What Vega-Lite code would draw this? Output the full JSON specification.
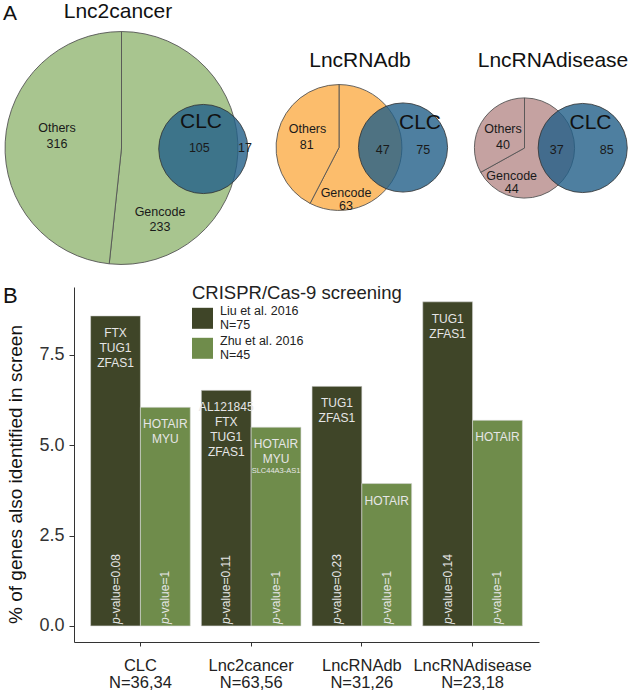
{
  "$schema": "https://vega.github.io/schema/vega-lite/v6.json",
  "padding": {"left": 2, "top": 0, "right": 0, "bottom": 0},
  "background": "white",
  "config": {
    "view": {"stroke": null},
    "font": "Liberation Sans",
    "style": {"guide-label": {"lineHeight": 14}}
  },
  "spacing": 12,
  "resolve": {
    "scale": {"color": "independent", "x": "independent", "y": "independent", "size": "independent", "radius": "independent", "theta": "independent"},
    "legend": {"color": "independent"}
  },
  "datasets": {
    "pies": [
      {"db": "Lnc2cancer", "part": "Gencode", "ord": 1, "n": 338, "total": 654, "cx": 121.5, "cy": 148},
      {"db": "Lnc2cancer", "part": "Others", "ord": 2, "n": 316, "total": 654, "cx": 121.5, "cy": 148},
      {"db": "LncRNAdb", "part": "Gencode", "ord": 1, "n": 110, "total": 191, "cx": 339, "cy": 147.5},
      {"db": "LncRNAdb", "part": "Others", "ord": 2, "n": 81, "total": 191, "cx": 339, "cy": 147.5},
      {"db": "LncRNAdisease", "part": "Gencode", "ord": 1, "n": 81, "total": 121, "cx": 524.5, "cy": 148},
      {"db": "LncRNAdisease", "part": "Others", "ord": 2, "n": 40, "total": 121, "cx": 524.5, "cy": 148}
    ],
    "clc": [
      {"db": "CLC", "total": 122, "cx": 203.3, "cy": 149},
      {"db": "CLC", "total": 122, "cx": 403, "cy": 147.5},
      {"db": "CLC", "total": 122, "cx": 582.7, "cy": 148}
    ],
    "labels": [
      {"kind": "big", "t": "A", "lx": 10, "ly": 20},
      {"kind": "big", "t": "Lnc2cancer", "lx": 118, "ly": 18.3},
      {"kind": "big", "t": "LncRNAdb", "lx": 360, "ly": 66.7},
      {"kind": "big", "t": "LncRNAdisease", "lx": 553, "ly": 66.7},
      {"kind": "big", "t": "CLC", "lx": 201, "ly": 128.3},
      {"kind": "big", "t": "CLC", "lx": 420, "ly": 129.3},
      {"kind": "big", "t": "CLC", "lx": 590.5, "ly": 129.3},
      {"kind": "num", "t": "Others", "lx": 57, "ly": 128.3},
      {"kind": "num", "t": "316", "lx": 57, "ly": 144.3},
      {"kind": "num", "t": "105", "lx": 199.3, "ly": 148.3},
      {"kind": "num", "t": "17", "lx": 245, "ly": 148.3},
      {"kind": "num", "t": "Gencode", "lx": 160, "ly": 211.7},
      {"kind": "num", "t": "233", "lx": 160, "ly": 227.3},
      {"kind": "num", "t": "Others", "lx": 307.5, "ly": 129.3},
      {"kind": "num", "t": "81", "lx": 306.7, "ly": 145},
      {"kind": "num", "t": "47", "lx": 382.7, "ly": 150},
      {"kind": "num", "t": "75", "lx": 423.3, "ly": 150},
      {"kind": "num", "t": "Gencode", "lx": 346, "ly": 192.7},
      {"kind": "num", "t": "63", "lx": 346, "ly": 206},
      {"kind": "num", "t": "Others", "lx": 503, "ly": 129.3},
      {"kind": "num", "t": "40", "lx": 503, "ly": 145},
      {"kind": "num", "t": "37", "lx": 556.7, "ly": 150},
      {"kind": "num", "t": "85", "lx": 606.7, "ly": 150},
      {"kind": "num", "t": "Gencode", "lx": 511.7, "ly": 176},
      {"kind": "num", "t": "44", "lx": 511.7, "ly": 189.3}
    ],
    "bars": [
      {"group": "CLC\nN=36,34", "study": "Liu et al. 2016\nN=75", "pct": 8.58, "genes": "FTX\nTUG1\nZFAS1", "small": "", "pv": "-value=0.08"},
      {"group": "CLC\nN=36,34", "study": "Zhu et al. 2016\nN=45", "pct": 6.05, "genes": "HOTAIR\nMYU", "small": "", "pv": "-value=1"},
      {"group": "Lnc2cancer\nN=63,56", "study": "Liu et al. 2016\nN=75", "pct": 6.52, "genes": "AL121845\nFTX\nTUG1\nZFAS1", "small": "", "pv": "-value=0.11"},
      {"group": "Lnc2cancer\nN=63,56", "study": "Zhu et al. 2016\nN=45", "pct": 5.5, "genes": "HOTAIR\nMYU", "small": "SLC44A3-AS1", "pv": "-value=1"},
      {"group": "LncRNAdb\nN=31,26", "study": "Liu et al. 2016\nN=75", "pct": 6.63, "genes": "TUG1\nZFAS1", "small": "", "pv": "-value=0.23"},
      {"group": "LncRNAdb\nN=31,26", "study": "Zhu et al. 2016\nN=45", "pct": 3.94, "genes": "HOTAIR", "small": "", "pv": "-value=1"},
      {"group": "LncRNAdisease\nN=23,18", "study": "Liu et al. 2016\nN=75", "pct": 8.97, "genes": "TUG1\nZFAS1", "small": "", "pv": "-value=0.14"},
      {"group": "LncRNAdisease\nN=23,18", "study": "Zhu et al. 2016\nN=45", "pct": 5.69, "genes": "HOTAIR", "small": "", "pv": "-value=1"}
    ]
  },
  "vconcat": [
    {
      "width": 559,
      "height": 272,
      "encoding": {
        "x": {"type": "quantitative", "scale": {"domain": [74, 633], "nice": false, "zero": false}, "axis": null},
        "y": {"type": "quantitative", "scale": {"domain": [0, 272], "nice": false, "zero": false, "reverse": true}, "axis": null}
      },
      "layer": [
        {
          "data": {"name": "pies"},
          "mark": {"type": "arc", "stroke": "#555555", "strokeWidth": 0.9},
          "encoding": {
            "x": {"field": "cx", "type": "quantitative"},
            "y": {"field": "cy", "type": "quantitative"},
            "theta": {"field": "n", "type": "quantitative", "stack": "normalize"},
            "radius": {"field": "total", "type": "quantitative", "scale": {"type": "sqrt", "domain": [0, 660], "range": [0, 117], "zero": true}},
            "order": {"field": "ord", "type": "quantitative"},
            "color": {"field": "db", "type": "nominal", "scale": {"domain": ["Lnc2cancer", "LncRNAdb", "LncRNAdisease"], "range": ["#a8c58f", "#fcbd6c", "#c5a2a1"]}, "legend": null}
          }
        },
        {
          "data": {"name": "clc"},
          "mark": {"type": "point", "shape": "circle", "filled": true, "opacity": 1, "fill": "#225f88", "fillOpacity": 0.8, "stroke": "#333333", "strokeWidth": 0.9, "strokeOpacity": 0.9},
          "encoding": {
            "x": {"field": "cx", "type": "quantitative"},
            "y": {"field": "cy", "type": "quantitative"},
            "size": {"field": "total", "type": "quantitative", "scale": {"type": "linear", "domain": [0, 660], "range": [0, 43005], "zero": true}, "legend": null}
          }
        },
        {
          "data": {"name": "labels"},
          "transform": [{"filter": "datum.kind === 'big'"}],
          "mark": {"type": "text", "fontSize": 21, "align": "center", "baseline": "alphabetic", "color": "#111111"},
          "encoding": {
            "x": {"field": "lx", "type": "quantitative"},
            "y": {"field": "ly", "type": "quantitative"},
            "text": {"field": "t"}
          }
        },
        {
          "data": {"name": "labels"},
          "transform": [{"filter": "datum.kind === 'num'"}],
          "mark": {"type": "text", "fontSize": 12.5, "align": "center", "baseline": "middle", "color": "#1a1a1a"},
          "encoding": {
            "x": {"field": "lx", "type": "quantitative"},
            "y": {"field": "ly", "type": "quantitative"},
            "text": {"field": "t"}
          }
        }
      ]
    },
    {
      "width": 465,
      "height": 355,
      "title": {"text": "B", "anchor": "start", "frame": "bounds", "fontSize": 22, "fontWeight": "normal", "color": "#111111", "offset": 0, "dy": 24, "dx": -4},
      "data": {"name": "bars"},
      "encoding": {
        "x": {
          "field": "group", "type": "nominal", "sort": null,
          "scale": {"paddingInner": 0.1, "paddingOuter": 0.15},
          "axis": {"title": null, "labelAngle": 0, "labelExpr": "split(datum.label, '\\n')", "labelFontSize": 16.5, "labelLineHeight": 17.5, "labelPadding": 11, "tickSize": 4, "labelColor": "#222222", "domainColor": "#333333", "tickColor": "#333333", "grid": false}
        },
        "xOffset": {"field": "study", "type": "nominal", "sort": null, "scale": {"paddingInner": 0, "paddingOuter": 0}},
        "y": {
          "field": "pct", "type": "quantitative",
          "scale": {"domain": [-0.445, 9.38], "nice": false, "zero": false},
          "axis": {"title": "% of genes also identified in screen", "values": [0, 2.5, 5, 7.5], "format": ".1f", "labelFontSize": 18, "titleFontSize": 19, "titleFontWeight": "normal", "titleColor": "#111111", "titleY": 187, "labelColor": "#333333", "tickSize": 5, "labelPadding": 5, "titlePadding": 13, "grid": false, "domainColor": "#333333", "tickColor": "#333333"}
        }
      },
      "layer": [
        {
          "mark": {"type": "bar", "stroke": "#d8d8d8", "strokeWidth": 0.6},
          "encoding": {
            "y2": {"datum": 0},
            "color": {
              "field": "study", "type": "nominal",
              "scale": {"domain": ["Liu et al. 2016\nN=75", "Zhu et al. 2016\nN=45"], "range": ["#3f4528", "#6f8c4b"]},
              "legend": {
                "title": "CRISPR/Cas-9 screening", "orient": "none", "legendX": 118, "legendY": -2.7,
                "titleFontSize": 18.5, "titleFontWeight": "normal", "titleColor": "#222222", "titlePadding": 5, "titleLimit": 0,
                "labelFontSize": 12.5, "labelColor": "#222222", "labelExpr": "split(datum.label, '\\n')", "labelOffset": 7, "labelLimit": 0, "labelBaseline": "bottom",
                "symbolType": "square", "symbolSize": 441, "symbolStrokeWidth": 0, "rowPadding": 3, "padding": 0
              }
            }
          }
        },
        {
          "mark": {"type": "text", "baseline": "top", "dy": 12, "lineBreak": "\n", "lineHeight": 15, "fontSize": 12, "color": "#e6e6e6"},
          "encoding": {"text": {"field": "genes"}}
        },
        {
          "mark": {"type": "text", "baseline": "top", "dy": 40, "fontSize": 7.5, "color": "#e6e6e6"},
          "encoding": {"text": {"field": "small"}}
        },
        {
          "mark": {"type": "text", "angle": 270, "align": "left", "baseline": "middle", "dx": 2, "fontSize": 12, "fontStyle": "italic", "color": "#e6e6e6"},
          "encoding": {"y": {"datum": 0}, "text": {"value": "p"}}
        },
        {
          "mark": {"type": "text", "angle": 270, "align": "left", "baseline": "middle", "dx": 8.7, "fontSize": 12, "color": "#e6e6e6"},
          "encoding": {"y": {"datum": 0}, "text": {"field": "pv"}}
        }
      ]
    }
  ]
}
